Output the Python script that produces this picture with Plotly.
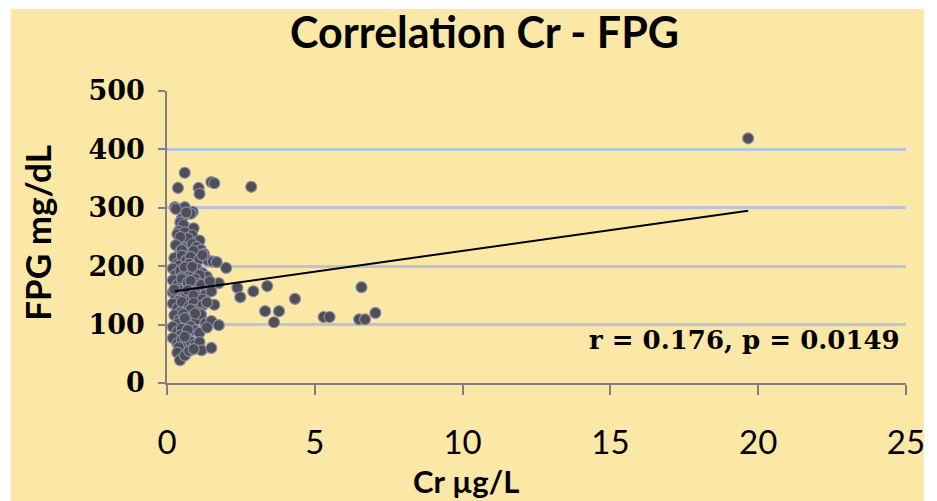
import plotly.graph_objects as go

# Chromium concentration (µg/L) and fasting plasma glucose (mg/dL) per subject
cr_values = [
    # upper part of the main cluster
    0.6, 0.37, 1.07, 1.1, 1.5, 1.6, 0.27, 0.6, 0.87,
    0.3, 0.55, 0.8, 0.5, 0.65,
    0.45, 0.6, 0.75, 0.55, 0.9, 0.4,
    0.35, 0.5, 0.6, 0.85, 1.0, 0.7, 0.45, 1.1,
    0.3, 0.45, 0.6, 0.7, 0.85, 1.0, 1.15, 1.25, 0.5, 0.9,
    0.25, 0.35, 0.5, 0.65, 0.8, 0.95, 1.1, 1.38, 1.55, 0.4, 0.75, 1.2,
    0.2, 0.3, 0.45, 0.6, 0.75, 0.9, 1.0, 1.2, 1.35, 2.0, 0.5, 0.85, 1.1,
    0.2, 0.35, 0.5, 0.6, 0.7, 0.85, 0.95, 1.05, 1.25, 1.75, 0.4, 0.8, 1.15, 1.45,
    0.2, 0.3, 0.45, 0.55, 0.65, 0.8, 0.95, 1.1, 1.3, 0.4, 0.7, 0.9, 1.2, 1.5, 0.25,
    0.2, 0.35, 0.5, 0.6, 0.75, 0.9, 1.0, 1.2, 1.6, 0.45, 0.8, 1.1, 1.35,
    0.25, 0.4, 0.55, 0.7, 0.85, 1.0, 1.15, 1.3, 0.35, 0.6, 0.95, 1.5,
    0.2, 0.35, 0.5, 0.65, 0.8, 0.95, 1.1, 1.75, 0.45, 0.7, 1.35,
    0.2, 0.35, 0.5, 0.65, 0.8, 0.95, 0.4, 0.6, 1.1,
    0.35, 0.44, 0.6, 0.75, 1.17, 1.5, 0.9,
    # scattered higher concentrations
    1.68, 2.38, 2.48, 2.92, 3.39, 4.33, 3.32, 3.79, 3.62,
    5.3, 5.5, 6.58, 6.5, 6.7, 7.05, 2.85, 19.66,
]

fpg_values = [
    360, 334, 334, 324, 344, 342, 301, 301, 293,
    298, 285, 290, 281, 292,
    275, 268, 262, 271, 265, 260,
    255, 245, 258, 253, 241, 248, 250, 244,
    236, 224, 231, 222, 238, 233, 228, 221, 228, 226,
    214, 205, 218, 210, 216, 203, 212, 210, 208, 201, 204, 219,
    196, 186, 192, 198, 184, 190, 196, 188, 182, 197, 181, 199, 185,
    176, 168, 178, 163, 172, 166, 178, 170, 162, 171, 161, 175, 168, 174,
    155, 146, 158, 149, 153, 142, 156, 148, 151, 141, 159, 150, 143, 157, 160,
    136, 128, 139, 122, 131, 137, 125, 133, 134, 121, 126, 120, 138,
    116, 108, 118, 104, 113, 109, 117, 102, 101, 111, 119, 106,
    96, 88, 93, 84, 97, 90, 86, 99, 81, 91, 95,
    77, 68, 74, 64, 71, 66, 61, 79, 70,
    52, 39, 47, 55, 56, 60, 58,
    207, 163, 147, 157, 166, 144, 123, 123, 104,
    113, 113, 164, 109, 109, 120, 336, 419,
]

# Linear trend line end points
trend_x = [0.27, 19.66]
trend_y = [157, 295]

x_ticks = [0, 5, 10, 15, 20, 25]
y_ticks = [0, 100, 200, 300, 400, 500]

chart_title = "Correlation Cr - FPG"
x_title = "Cr \u00b5g/L"
y_title = "FPG mg/dL"
stats_label = "r = 0.176, p = 0.0149"

BG = "rgb(252,232,166)"
GRID = "rgb(182,198,214)"
AXIS = "rgb(128,128,128)"

fig = go.Figure()

fig.add_trace(go.Scatter(
    x=cr_values, y=fpg_values, mode="markers",
    marker=dict(size=11, color="rgb(78,78,88)",
                line=dict(color="rgb(140,140,165)", width=1.2)),
    showlegend=False, hoverinfo="skip",
))

fig.add_trace(go.Scatter(
    x=trend_x, y=trend_y, mode="lines",
    line=dict(color="black", width=2),
    showlegend=False, hoverinfo="skip",
))

# Margins place the plot area at x 167..910 px and y 91..383 px
L, R, T, B = 167, 27, 91, 118
W, H = 937, 501
pw, ph = W - L - R, H - T - B


def px(xp):
    return (xp - L) / pw


def py(yp):
    return (H - B - yp) / ph


fig.add_shape(type="rect", xref="paper", yref="paper",
              x0=px(10), x1=px(928), y0=py(501), y1=py(9),
              fillcolor=BG, line=dict(width=0), layer="below")

fig.update_layout(
    width=W, height=H, autosize=False,
    margin=dict(l=L, r=R, t=T, b=B, pad=0),
    paper_bgcolor="white",
    plot_bgcolor="rgba(0,0,0,0)",
    showlegend=False,
    xaxis=dict(
        range=[0, 25], tickvals=x_ticks, ticktext=[str(v) for v in x_ticks],
        showgrid=False, zeroline=False,
        showline=True, linecolor=AXIS, linewidth=1.5,
        ticks="outside", ticklen=10, tickcolor=AXIS, tickwidth=1.5,
        tickfont=dict(family="Lato", size=33, color="black"),
        ticklabelstandoff=20,
    ),
    yaxis=dict(
        range=[0, 500], tickvals=y_ticks, ticktext=[str(v) for v in y_ticks],
        showgrid=True, gridcolor=GRID, gridwidth=3,
        zeroline=False,
        showline=True, linecolor=AXIS, linewidth=1.5,
        ticks="outside", ticklen=7, tickcolor=AXIS, tickwidth=1.5,
        tickfont=dict(family="DejaVu Serif", size=27, color="black", weight="bold"),
        ticklabelstandoff=8,
    ),
    annotations=[
        dict(text=chart_title, xref="paper", yref="paper",
             x=px(486), y=py(31), xanchor="center", yanchor="middle",
             showarrow=False,
             font=dict(family="Lato", size=43, color="black", weight="bold")),
        dict(text=y_title, xref="paper", yref="paper",
             x=px(36), y=py(233), xanchor="center", yanchor="middle",
             textangle=-90, showarrow=False,
             font=dict(family="Lato", size=35, color="black", weight="bold")),
        dict(text=x_title, xref="paper", yref="paper",
             x=px(468), y=py(501), xanchor="center", yanchor="bottom",
             showarrow=False, borderpad=0,
             font=dict(family="Lato", size=31, color="black", weight="bold")),
        dict(text=stats_label, xref="paper", yref="paper",
             x=px(906), y=py(340), xanchor="right", yanchor="middle",
             showarrow=False,
             font=dict(family="DejaVu Serif", size=26, color="black", weight="bold")),
    ],
)

fig.write_html("out.html")
